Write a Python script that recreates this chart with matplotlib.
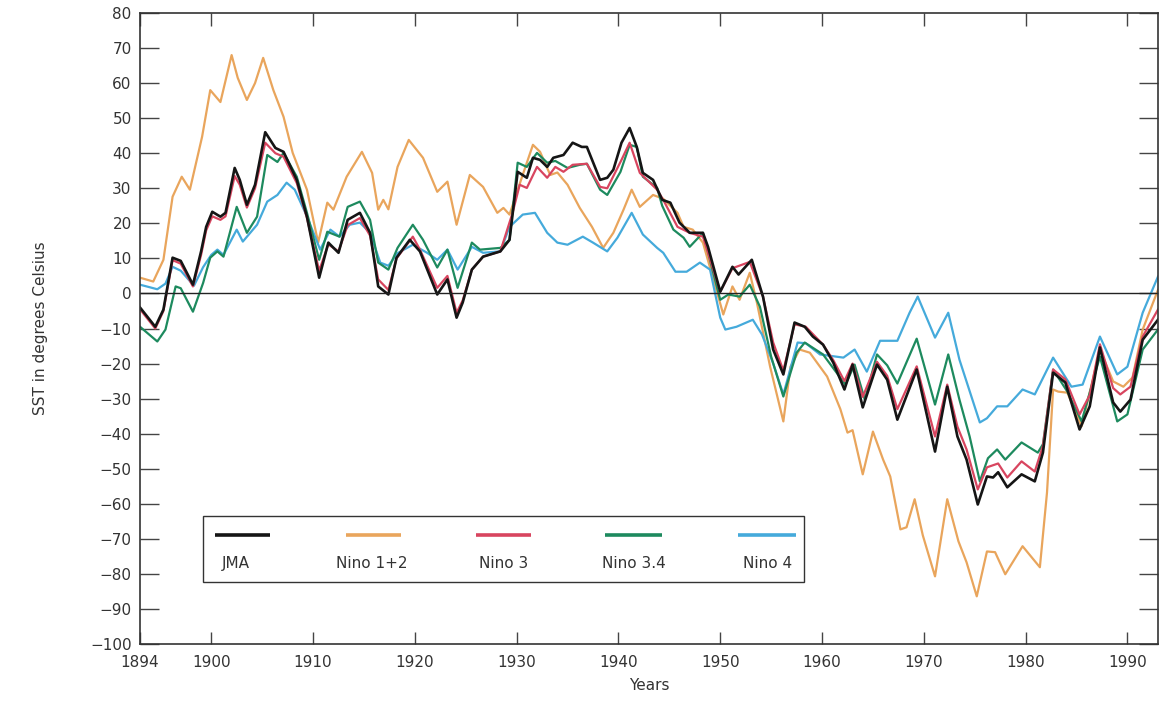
import matplotlib
matplotlib.use("Agg")
import matplotlib.pyplot as plt
from matplotlib.patches import Rectangle

# smoothed SST index series (year, value)
jma_years = [1893.0, 1894.5, 1895.3, 1896.2, 1897.0, 1898.2, 1899.0, 1899.5, 1900.1, 1900.9,
             1901.4, 1902.3, 1902.8, 1903.5, 1904.3, 1905.3, 1906.3, 1907.1, 1908.4, 1909.4,
             1910.6, 1911.5, 1912.5, 1913.4, 1914.6, 1915.6, 1916.4, 1917.4, 1918.2, 1919.5,
             1920.5, 1922.2, 1923.2, 1924.1, 1924.7, 1925.6, 1926.7, 1928.4, 1929.3, 1930.1,
             1931.0, 1931.6, 1932.3, 1933.0, 1933.6, 1934.6, 1935.5, 1936.4, 1936.9, 1938.2,
             1938.9, 1939.5, 1940.3, 1941.1, 1941.8, 1942.4, 1943.4, 1944.3, 1945.1, 1946.0,
             1947.0, 1948.3, 1948.8, 1950.0, 1951.2, 1951.8, 1953.1, 1954.2, 1955.2, 1956.2,
             1957.3, 1958.3, 1959.1, 1960.1, 1961.1, 1962.2, 1963.0, 1964.0, 1965.4, 1966.4,
             1967.4, 1969.3, 1971.1, 1972.3, 1973.3, 1974.2, 1975.3, 1976.2, 1976.8, 1977.3,
             1978.2, 1979.6, 1980.9, 1981.7, 1982.7, 1983.9, 1985.3, 1986.3, 1987.3, 1988.6,
             1989.3, 1990.3, 1991.5, 1993.0]
jma_sst = [-4, -9.5, -4.6, 10.2, 9.3, 2.5, 12, 19, 23.3, 21.9,
           23, 35.8, 32.4, 25.3, 31, 46, 41.5, 40.4, 32.4, 21.9,
           4.5, 14.5, 11.6, 21, 23, 17.3, 2, -0.3, 10.2, 15.3,
           12, -0.3, 4, -6.9, -2.6, 6.8, 10.5, 12, 15.3, 34.7,
           33, 38.7, 38.1, 36.1, 38.7, 39.5, 43, 41.8, 41.8, 32.4,
           33, 35.3, 43, 47.2, 41.8, 34.4, 32.4, 26.7, 25.9, 20.2,
           17.3, 17.3, 13.3, 0.5, 7.6, 5.4, 9.6, -0.9, -16, -23.1,
           -8.3, -9.5, -12.3, -14.6, -19.7, -27.4, -20.3, -32.5, -20.3, -24.6,
           -36, -21.7, -45.1, -26.6, -40.8, -47.4, -60.2, -52.2, -52.5, -51,
           -55.3, -51.6, -53.6, -45.4, -22.6, -25.4, -38.8, -32.2, -15.4, -31.1,
           -33.7, -30.3, -13.2, -7.5]

nino12_years = [1893.0, 1894.3, 1895.3, 1896.2, 1897.1, 1897.9, 1899.1, 1899.9, 1900.9, 1902.0,
                1902.6, 1903.5, 1904.3, 1905.1, 1906.1, 1907.1, 1908.0, 1909.4, 1910.5, 1911.4,
                1912.0, 1913.3, 1914.8, 1915.8, 1916.4, 1916.9, 1917.4, 1918.3, 1919.4, 1920.8,
                1922.2, 1923.2, 1924.1, 1925.4, 1926.7, 1928.1, 1928.7, 1929.3, 1930.5, 1931.6,
                1932.3, 1933.3, 1934.0, 1935.0, 1936.2, 1937.4, 1938.5, 1939.5, 1940.5, 1941.3,
                1942.1, 1943.4, 1944.4, 1945.8, 1946.4, 1947.3, 1948.3, 1949.7, 1950.3, 1951.2,
                1951.9, 1952.9, 1953.6, 1954.9, 1956.2, 1956.9, 1957.8, 1958.8, 1960.5, 1961.8,
                1962.5, 1963.0, 1964.0, 1965.0, 1966.0, 1966.7, 1967.7, 1968.3, 1969.1, 1969.9,
                1971.1, 1972.3, 1973.4, 1974.2, 1975.2, 1976.2, 1977.0, 1978.0, 1979.7, 1981.4,
                1982.1, 1982.7, 1983.2, 1984.1, 1985.5, 1987.3, 1988.6, 1989.6, 1990.5, 1991.5,
                1993.0]
nino12_sst = [4.5, 3.4, 9.6, 27.6, 33.3, 29.6, 44.7, 58, 54.6, 68,
              61.5, 55.2, 60, 67.2, 58, 50.4, 40.1, 29.6, 14.5, 25.9,
              23.9, 33.3, 40.4, 34.4, 23.9, 26.7, 24, 36.1, 43.8, 38.7,
              29, 31.9, 19.6, 33.8, 30.4, 23, 24.4, 22.5, 33, 42.4,
              40.4, 33.8, 34.5, 31, 24.4, 19, 13, 17.3, 23.9, 29.6,
              24.7, 28.1, 27, 23, 19, 18.2, 14.5, 0.2, -6, 2,
              -1.8, 5.9, -2.6, -20.9, -36.5, -20.9, -16, -16.9, -23.7, -33,
              -39.7, -39, -51.6, -39.4, -47.4, -52.2, -67.3, -66.7, -58.7, -69,
              -80.7, -58.7, -70.7, -76.7, -86.4, -73.6, -73.8, -80.1, -72.1, -78.1,
              -56.8, -27.4, -28, -28.3, -37.9, -16, -25.1, -26.6, -24, -10.3,
              1]

nino3_years = [1893.0, 1894.5, 1895.3, 1896.2, 1897.0, 1898.2, 1899.0, 1899.5, 1900.1, 1900.9,
               1901.4, 1902.3, 1902.8, 1903.5, 1904.3, 1905.3, 1906.3, 1907.1, 1908.4, 1909.4,
               1910.6, 1911.5, 1912.5, 1913.4, 1914.6, 1915.6, 1916.4, 1917.4, 1918.2, 1919.8,
               1920.5, 1922.2, 1923.2, 1924.1, 1924.7, 1925.6, 1926.7, 1928.4, 1929.6, 1930.3,
               1931.0, 1932.0, 1933.0, 1933.8, 1934.6, 1935.5, 1936.9, 1938.2, 1938.9, 1940.3,
               1941.1, 1942.1, 1943.8, 1944.4, 1945.8, 1947.0, 1948.3, 1950.0, 1951.2, 1952.9,
               1954.2, 1955.2, 1956.2, 1957.3, 1958.4, 1960.1, 1961.1, 1962.2, 1963.0, 1964.0,
               1965.4, 1966.4, 1967.4, 1969.3, 1971.1, 1972.3, 1973.3, 1974.2, 1975.3, 1976.2,
               1977.3, 1978.2, 1979.6, 1980.9, 1981.7, 1982.7, 1983.9, 1985.3, 1986.3, 1987.3,
               1988.6, 1989.3, 1990.3, 1991.5, 1993.0]
nino3_sst = [-4.5, -10, -5, 9.5, 8.5, 2, 11, 18, 22, 21,
             22, 33.5, 31, 24.5, 30, 43, 40, 39, 31.5, 21.5,
             6.5, 14, 12, 19.5, 21.5, 16.5, 4, 1, 10, 16.2,
             12.5, 1.6, 5, -5.5, -2, 6.8, 10.5, 12, 23, 31,
             30.1, 36.1, 33, 36.1, 34.7, 36.7, 37, 30.4, 30, 38.1,
             43, 34.4, 29.6, 26.7, 19, 17.3, 16.2, 0.5, 7.2, 9,
             -0.9, -14, -22, -8.8, -9.5, -14.6, -19, -25, -20, -29.5,
             -19.5, -23.5, -33, -20.8, -40.8, -26, -38, -44.5, -55.9, -49.6,
             -48.5, -52.5, -47.9, -50.8, -43.5, -21.7, -24.5, -34.5, -29, -14.5,
             -27, -28.8, -26.6, -12.3, -4.6]

nino34_years = [1893.0, 1894.7, 1895.5, 1896.5, 1897.0, 1898.2, 1899.2, 1899.9, 1900.6, 1901.2,
                1902.5, 1903.5, 1904.5, 1905.5, 1906.5, 1907.1, 1908.4, 1909.4, 1910.6, 1911.4,
                1912.6, 1913.4, 1914.6, 1915.6, 1916.4, 1917.4, 1918.3, 1919.8, 1920.8, 1922.2,
                1923.2, 1924.2, 1925.6, 1926.4, 1928.4, 1929.3, 1930.1, 1931.0, 1932.0, 1933.0,
                1933.8, 1935.0, 1936.2, 1936.9, 1938.2, 1938.9, 1940.2, 1941.1, 1941.8, 1942.4,
                1943.8, 1944.3, 1945.4, 1946.4, 1947.0, 1948.3, 1950.0, 1950.8, 1951.9, 1952.9,
                1953.9, 1955.0, 1956.2, 1957.5, 1958.3, 1960.1, 1962.3, 1963.2, 1964.2, 1965.4,
                1966.4, 1967.4, 1969.3, 1971.1, 1972.4, 1973.5, 1974.5, 1975.5, 1976.3, 1977.2,
                1978.0, 1979.6, 1981.2, 1981.7, 1982.7, 1984.1, 1985.5, 1987.3, 1989.0, 1990.0,
                1991.5, 1993.0]
nino34_sst = [-9.5, -13.7, -10.3, 2, 1.5, -5.2, 3, 10.2, 12, 10.5,
              24.7, 17.3, 21.9, 39.5, 37.5, 40.1, 33.3, 23, 9.6, 17.6,
              16.2, 24.7, 26.2, 21, 8.8, 6.8, 13, 19.6, 15.3, 7.4,
              12.5, 1.6, 14.5, 12.5, 13, 15.3, 37.3, 36.1, 40.1, 37.3,
              37.8, 35.8, 36.7, 37, 29.6, 28.1, 34.7, 42.4, 41.8, 33.3,
              30.1, 25, 18.2, 15.9, 13.3, 17.3, -1.8, -0.3, -0.9, 2.5,
              -3.8, -18, -29.4, -16.9, -14, -17.4, -26, -20.3, -30.3, -17.4,
              -20.5, -25.7, -12.9, -31.7, -17.4, -30.3, -40.8, -53.6, -47, -44.5,
              -47.4, -42.5, -45.4, -43, -21.7, -28, -36.5, -18, -36.5, -34.5,
              -16, -10.3]

nino4_years = [1893.0, 1894.7, 1895.5, 1896.2, 1897.0, 1898.3, 1899.2, 1900.0, 1900.6, 1901.2,
               1902.5, 1903.1, 1904.5, 1905.5, 1906.5, 1907.4, 1908.2, 1909.4, 1910.7, 1911.7,
               1912.6, 1913.6, 1914.6, 1915.6, 1916.6, 1917.4, 1918.3, 1919.8, 1921.2, 1922.2,
               1923.2, 1924.2, 1925.6, 1926.7, 1928.4, 1929.3, 1930.6, 1931.8, 1933.0, 1934.0,
               1935.0, 1936.5, 1937.5, 1938.9, 1939.9, 1941.3, 1942.4, 1943.8, 1944.4, 1945.6,
               1946.7, 1948.0, 1949.0, 1950.0, 1950.5, 1951.6, 1953.2, 1954.1, 1955.2, 1956.2,
               1957.6, 1958.4, 1959.8, 1962.1, 1963.2, 1964.4, 1965.7, 1967.4, 1968.6, 1969.4,
               1971.1, 1972.4, 1973.5, 1975.5, 1976.2, 1977.2, 1978.2, 1979.7, 1980.9, 1982.7,
               1984.5, 1985.6, 1987.3, 1989.0, 1990.0, 1991.5, 1993.0]
nino4_sst = [2.5, 1.2, 2.8, 7.6, 6.5, 2.2, 7.5, 11, 12.5, 11,
             18.2, 14.8, 19.6, 26.2, 28.1, 31.6, 29.6, 22, 12.5, 18.2,
             16.2, 19.6, 20.2, 17.3, 8.8, 7.9, 11.5, 13.9, 11.6, 9.6,
             12.5, 6.8, 13.3, 11.6, 12, 19, 22.5, 23, 17.3, 14.5,
             13.9, 16.2, 14.5, 12, 15.9, 23, 16.8, 13, 11.6, 6.2,
             6.2, 8.8, 6.8, -6.9, -10.3, -9.5, -7.5, -11.7, -20, -28.8,
             -14, -14.2, -17.4, -18.3, -16, -22.3, -13.5, -13.5, -5.5, -0.9,
             -12.6, -5.5, -18.9, -36.8, -35.6, -32.2, -32.2, -27.4, -28.8, -18.3,
             -26.6, -26, -12.3, -23.1, -20.9, -5.5, 4.8]

series_names = ["JMA", "Nino 1+2", "Nino 3", "Nino 3.4", "Nino 4"]
series_colors = ["#151515", "#e9a55c", "#d8455f", "#1d8a5e", "#45aadb"]

year_ticks = [1893, 1900, 1910, 1920, 1930, 1940, 1950, 1960, 1970, 1980, 1990]
year_labels = ["1894", "1900", "1910", "1920", "1930", "1940", "1950", "1960", "1970", "1980", "1990"]

fig = plt.figure(figsize=(11.59, 7.03), dpi=100)
ax = fig.add_axes([0.1208, 0.0839, 0.8783, 0.8976])

data = {
    "JMA": (jma_years, jma_sst),
    "Nino 1+2": (nino12_years, nino12_sst),
    "Nino 3": (nino3_years, nino3_sst),
    "Nino 3.4": (nino34_years, nino34_sst),
    "Nino 4": (nino4_years, nino4_sst),
}
colors = dict(zip(series_names, series_colors))

# draw the paler series underneath, JMA on top
for name in ["Nino 1+2", "Nino 4", "Nino 3.4", "Nino 3", "JMA"]:
    yrs, vals = data[name]
    lw = 1.9 if name == "JMA" else 1.6
    ax.plot(yrs, vals, color=colors[name], lw=lw, solid_joinstyle="round")

ax.axhline(0, color="#222222", lw=1.0)

ax.set_xlim(1893, 1993)
ax.set_ylim(-100, 80)
ax.set_xticks(year_ticks)
ax.set_xticklabels(year_labels)
ax.set_yticks(range(-100, 81, 10))

ax.tick_params(axis="y", direction="in", length=14, width=1, pad=6,
               right=True, labelsize=11, labelcolor="#333333", color="#444444")
ax.tick_params(axis="x", direction="in", length=9, width=1, pad=8,
               top=True, labelsize=11, labelcolor="#333333", color="#444444")
for sp in ax.spines.values():
    sp.set_color("#333333")
    sp.set_linewidth(1.2)

ax.set_xlabel("Years", fontsize=11, color="#333333", labelpad=6)
ax.set_ylabel("SST in degrees Celsius", fontsize=11, color="#333333", labelpad=30)

# legend box: sample line above each label
ax.add_patch(Rectangle((0.062, 0.098), 0.590, 0.105, transform=ax.transAxes,
                       fill=True, facecolor="white", edgecolor="#333333", lw=1.0, zorder=5))
line_x = [(0.074, 0.128), (0.202, 0.256), (0.330, 0.384), (0.457, 0.513), (0.587, 0.644)]
label_x = [0.094, 0.228, 0.357, 0.485, 0.616]
for name, (x0, x1), lx in zip(series_names, line_x, label_x):
    ax.plot([x0, x1], [0.173, 0.173], transform=ax.transAxes, color=colors[name],
            lw=2.6, solid_capstyle="butt", zorder=6)
    ax.text(lx, 0.128, name, transform=ax.transAxes, ha="center", va="center",
            fontsize=11, color="#333333", zorder=6)

fig.savefig("out.png", dpi=100)
